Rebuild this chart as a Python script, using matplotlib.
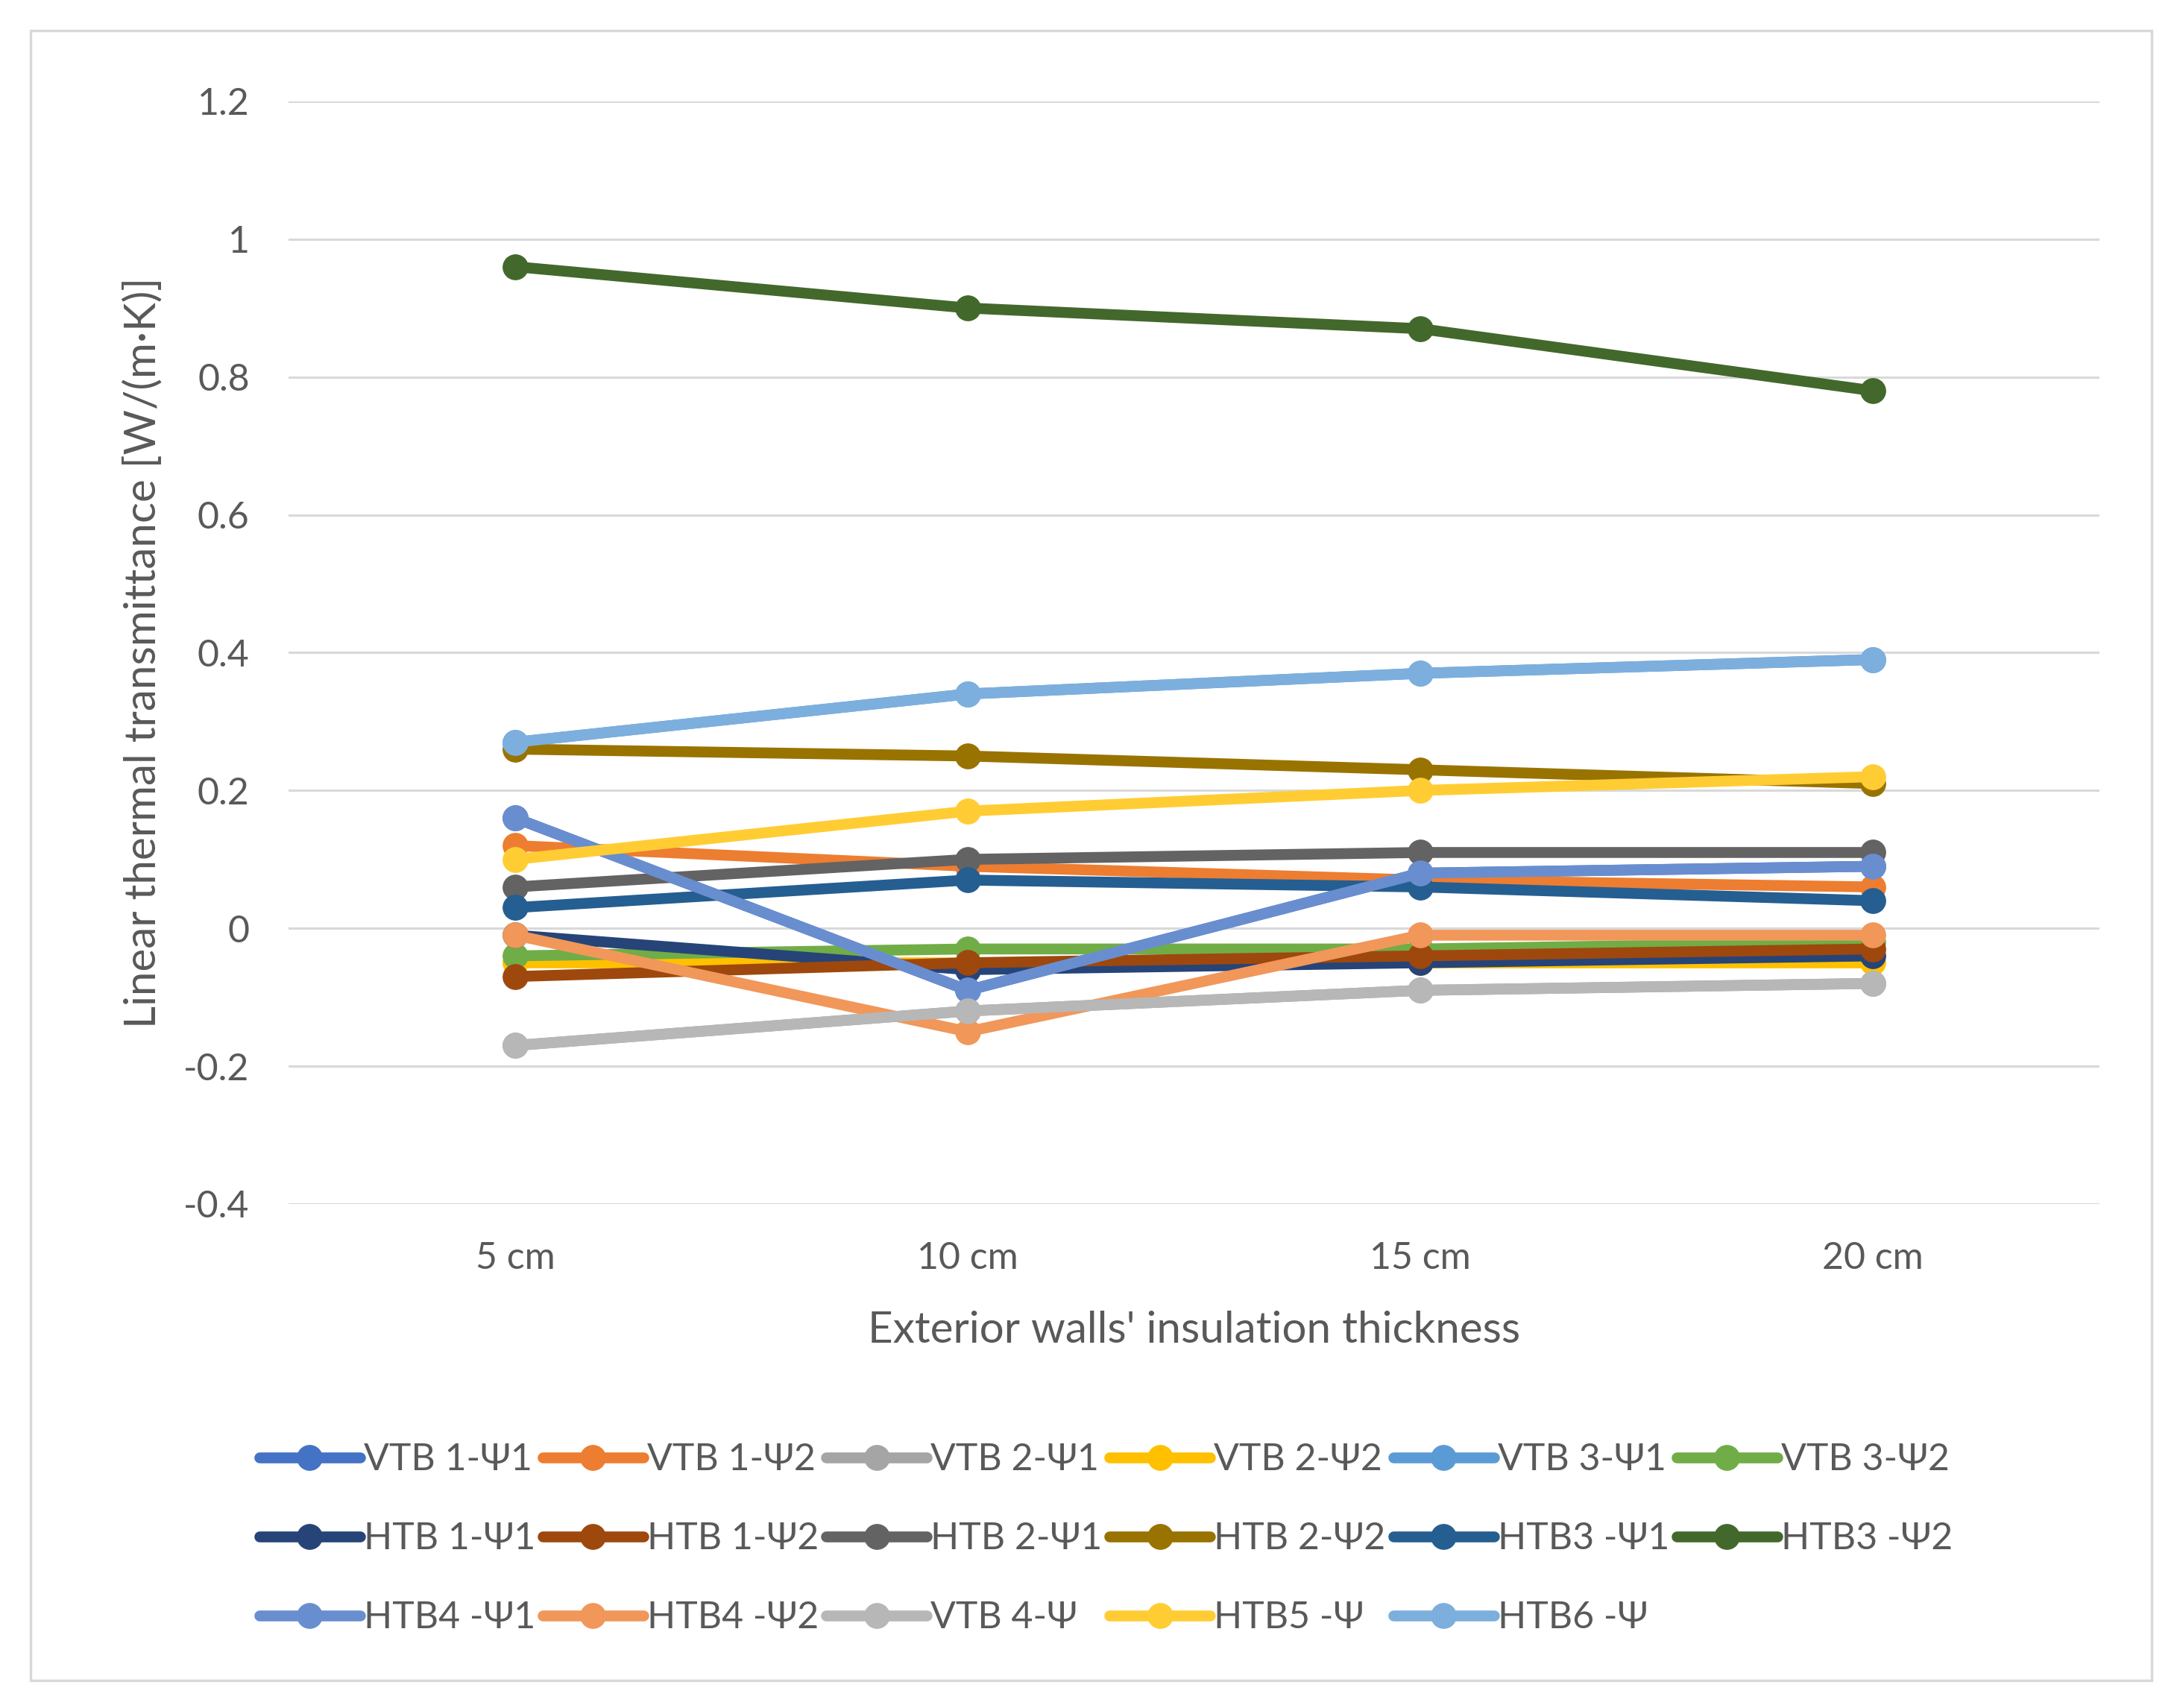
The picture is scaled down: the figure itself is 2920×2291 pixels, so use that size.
import matplotlib
matplotlib.use("Agg")
import matplotlib.pyplot as plt
from matplotlib.patches import Rectangle

plt.rcParams['font.family'] = ['Lato', 'DejaVu Sans']

categories = ['5 cm', '10 cm', '15 cm', '20 cm']

series_names = ['VTB 1-Ψ1', 'VTB 1-Ψ2', 'VTB 2-Ψ1', 'VTB 2-Ψ2', 'VTB 3-Ψ1', 'VTB 3-Ψ2',
                'HTB 1-Ψ1', 'HTB 1-Ψ2', 'HTB 2-Ψ1', 'HTB 2-Ψ2', 'HTB3 -Ψ1', 'HTB3 -Ψ2',
                'HTB4 -Ψ1', 'HTB4 -Ψ2', 'VTB 4-Ψ', 'HTB5 -Ψ', 'HTB6 -Ψ']

vtb1_psi1 = [0.16, -0.09, 0.08, 0.09]
vtb1_psi2 = [0.12, 0.09, 0.07, 0.06]
vtb2_psi1 = [-0.17, -0.12, -0.09, -0.08]
vtb2_psi2 = [-0.05, -0.05, -0.05, -0.05]
vtb3_psi1 = [0.27, 0.34, 0.37, 0.39]
vtb3_psi2 = [-0.04, -0.03, -0.03, -0.02]
htb1_psi1 = [-0.01, -0.06, -0.05, -0.04]
htb1_psi2 = [-0.07, -0.05, -0.04, -0.03]
htb2_psi1 = [0.06, 0.10, 0.11, 0.11]
htb2_psi2 = [0.26, 0.25, 0.23, 0.21]
htb3_psi1 = [0.03, 0.07, 0.06, 0.04]
htb3_psi2 = [0.96, 0.90, 0.87, 0.78]
htb4_psi1 = [0.16, -0.09, 0.08, 0.09]
htb4_psi2 = [-0.01, -0.15, -0.01, -0.01]
vtb4_psi = [-0.17, -0.12, -0.09, -0.08]
htb5_psi = [0.10, 0.17, 0.20, 0.22]
htb6_psi = [0.27, 0.34, 0.37, 0.39]

all_values = [vtb1_psi1, vtb1_psi2, vtb2_psi1, vtb2_psi2, vtb3_psi1, vtb3_psi2,
              htb1_psi1, htb1_psi2, htb2_psi1, htb2_psi2, htb3_psi1, htb3_psi2,
              htb4_psi1, htb4_psi2, vtb4_psi, htb5_psi, htb6_psi]

# excel office palette: accents, darker, lighter
colors = ['#4472C4', '#ED7D31', '#A5A5A5', '#FFC000', '#5B9BD5', '#70AD47',
          '#264478', '#9E480E', '#636363', '#997300', '#255E91', '#43682B',
          '#698ED0', '#F1975A', '#B7B7B7', '#FFCD33', '#7CAFDD']

text_color = '#595959'
grid_color = '#D9D9D9'

fig = plt.figure(figsize=(29.2, 22.91), dpi=100)
fig.patches.append(Rectangle((0.014, 0.0163), 0.9745, 0.9659, transform=fig.transFigure,
                             fill=False, edgecolor=grid_color, linewidth=2.5))

ax = fig.add_axes([0.1327, 0.2951, 0.8316, 0.6456])
x = list(range(len(categories)))
for name, vals, c in zip(series_names, all_values, colors):
    ax.plot(x, vals, color=c, linewidth=10.5, marker='o', markersize=24,
            solid_capstyle='round', label=name)

ax.set_xlim(-0.5, 3.5)
ax.set_ylim(-0.4, 1.2)
ax.set_yticks([-0.4, -0.2, 0, 0.2, 0.4, 0.6, 0.8, 1.0, 1.2])
ax.set_yticklabels(['-0.4', '-0.2', '0', '0.2', '0.4', '0.6', '0.8', '1', '1.2'])
ax.set_xticks(x)
ax.set_xticklabels(categories)
ax.grid(axis='y', color=grid_color, linewidth=2.2)
ax.set_axisbelow(True)
for s in ax.spines.values():
    s.set_visible(False)
ax.tick_params(axis='both', length=0, labelsize=36, colors=text_color)
ax.tick_params(axis='y', pad=38)
ax.tick_params(axis='x', pad=36)

ax.set_xlabel("Exterior walls' insulation thickness", fontsize=42, color=text_color, labelpad=34)
ax.set_ylabel('Linear thermal transmittance [W/(m·K)]', fontsize=42, color=text_color, labelpad=20)

# legend is filled column by column, so reorder to read row by row
handles, labels = ax.get_legend_handles_labels()
order = [0, 6, 12, 1, 7, 13, 2, 8, 14, 3, 9, 15, 4, 10, 16, 5, 11]
handles = [handles[i] for i in order]
labels = [labels[i] for i in order]
leg = fig.legend(handles, labels, loc='center', bbox_to_anchor=(0.508, 0.099), ncol=6,
                 frameon=False, fontsize=36, handlelength=2.7, handletextpad=0.1,
                 columnspacing=0.2, labelspacing=1.2, labelcolor=text_color)

fig.savefig('out.png', dpi=100, facecolor='white')
